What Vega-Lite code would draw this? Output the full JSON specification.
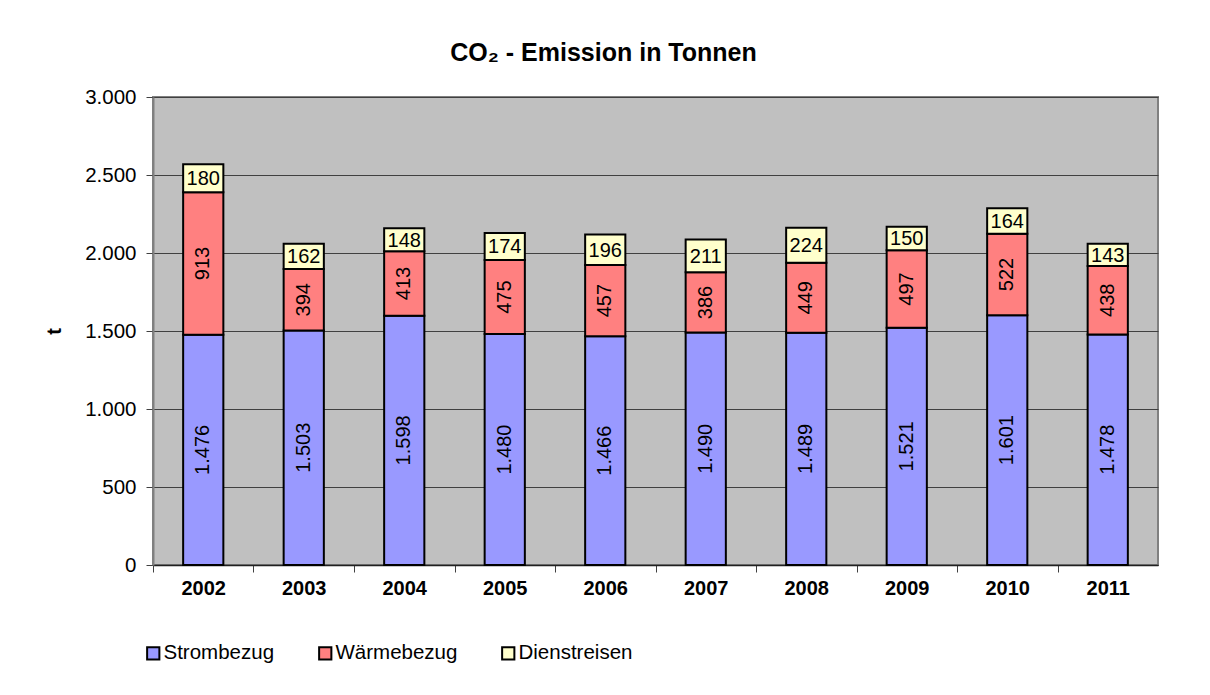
{
  "$schema": "https://vega.github.io/schema/vega-lite/v6.json",
  "width": 1005,
  "height": 468,
  "autosize": {"type": "none"},
  "padding": {"left": 153, "top": 97, "right": 52, "bottom": 130},
  "background": "white",
  "config": {
    "locale": {"number": {"decimal": ",", "thousands": ".", "grouping": [3], "currency": ["", " €"]}},
    "font": "Liberation Sans",
    "view": {"fill": "#c0c0c0", "stroke": "#808080", "strokeWidth": 2}
  },
  "title": {
    "text": "CO₂ - Emission in Tonnen",
    "font": "Liberation Sans",
    "fontSize": 25,
    "fontWeight": "bold",
    "color": "black",
    "anchor": "middle",
    "dx": -52,
    "offset": 21
  },
  "data": {
    "values": [
      {"year": "2002", "cat": "Strombezug", "order": 1, "value": 1476},
      {"year": "2002", "cat": "Wärmebezug", "order": 2, "value": 913},
      {"year": "2002", "cat": "Dienstreisen", "order": 3, "value": 180},
      {"year": "2003", "cat": "Strombezug", "order": 1, "value": 1503},
      {"year": "2003", "cat": "Wärmebezug", "order": 2, "value": 394},
      {"year": "2003", "cat": "Dienstreisen", "order": 3, "value": 162},
      {"year": "2004", "cat": "Strombezug", "order": 1, "value": 1598},
      {"year": "2004", "cat": "Wärmebezug", "order": 2, "value": 413},
      {"year": "2004", "cat": "Dienstreisen", "order": 3, "value": 148},
      {"year": "2005", "cat": "Strombezug", "order": 1, "value": 1480},
      {"year": "2005", "cat": "Wärmebezug", "order": 2, "value": 475},
      {"year": "2005", "cat": "Dienstreisen", "order": 3, "value": 174},
      {"year": "2006", "cat": "Strombezug", "order": 1, "value": 1466},
      {"year": "2006", "cat": "Wärmebezug", "order": 2, "value": 457},
      {"year": "2006", "cat": "Dienstreisen", "order": 3, "value": 196},
      {"year": "2007", "cat": "Strombezug", "order": 1, "value": 1490},
      {"year": "2007", "cat": "Wärmebezug", "order": 2, "value": 386},
      {"year": "2007", "cat": "Dienstreisen", "order": 3, "value": 211},
      {"year": "2008", "cat": "Strombezug", "order": 1, "value": 1489},
      {"year": "2008", "cat": "Wärmebezug", "order": 2, "value": 449},
      {"year": "2008", "cat": "Dienstreisen", "order": 3, "value": 224},
      {"year": "2009", "cat": "Strombezug", "order": 1, "value": 1521},
      {"year": "2009", "cat": "Wärmebezug", "order": 2, "value": 497},
      {"year": "2009", "cat": "Dienstreisen", "order": 3, "value": 150},
      {"year": "2010", "cat": "Strombezug", "order": 1, "value": 1601},
      {"year": "2010", "cat": "Wärmebezug", "order": 2, "value": 522},
      {"year": "2010", "cat": "Dienstreisen", "order": 3, "value": 164},
      {"year": "2011", "cat": "Strombezug", "order": 1, "value": 1478},
      {"year": "2011", "cat": "Wärmebezug", "order": 2, "value": 438},
      {"year": "2011", "cat": "Dienstreisen", "order": 3, "value": 143}
    ]
  },
  "transform": [
    {"stack": "value", "groupby": ["year"], "sort": [{"field": "order", "order": "ascending"}], "as": ["v0", "v1"]},
    {"calculate": "(datum.v0 + datum.v1) / 2", "as": "mid"}
  ],
  "encoding": {
    "x": {
      "field": "year",
      "type": "nominal",
      "scale": {"paddingInner": 0.6, "paddingOuter": 0.3},
      "axis": {
        "title": null,
        "labelAngle": 0,
        "labelFont": "Liberation Sans",
        "labelFontSize": 20,
        "labelFontWeight": "bold",
        "labelColor": "black",
        "labelPadding": 6,
        "labelOffset": 50.25,
        "tickOffset": -50.25,
        "tickSize": 7,
        "tickColor": "#404040",
        "domainColor": "#202020",
        "domainWidth": 1.5,
        "grid": false
      }
    }
  },
  "layer": [
    {
      "mark": {"type": "bar", "stroke": "black", "strokeWidth": 2},
      "encoding": {
        "y": {
          "field": "v0",
          "type": "quantitative",
          "scale": {"domain": [0, 3000]},
          "axis": {
            "title": "t",
            "titleFont": "Liberation Sans",
            "titleFontSize": 20,
            "titleFontWeight": "bold",
            "titleColor": "black",
            "titlePadding": 20,
            "values": [0, 500, 1000, 1500, 2000, 2500, 3000],
            "format": ",d",
            "labelFont": "Liberation Sans",
            "labelFontSize": 20.5,
            "labelColor": "black",
            "labelPadding": 10,
            "tickSize": 7,
            "tickColor": "#404040",
            "domainColor": "#808080",
            "domainWidth": 2,
            "grid": true,
            "gridColor": "#404040",
            "gridWidth": 1
          }
        },
        "y2": {"field": "v1"},
        "color": {
          "field": "cat",
          "type": "nominal",
          "scale": {"domain": ["Strombezug", "Wärmebezug", "Dienstreisen"], "range": ["#9999ff", "#ff8080", "#ffffcc"]},
          "legend": {
            "title": null,
            "orient": "none",
            "direction": "horizontal",
            "legendX": -10,
            "legendY": 546,
            "symbolType": "square",
            "symbolSize": 150,
            "symbolStrokeColor": "black",
            "symbolStrokeWidth": 2,
            "symbolOpacity": 1,
            "labelFont": "Liberation Sans",
            "labelFontSize": 20.5,
            "labelColor": "black",
            "labelOffset": 0,
            "columnPadding": 40
          }
        }
      }
    },
    {
      "transform": [{"filter": "datum.order < 3"}],
      "mark": {"type": "text", "angle": 270, "align": "center", "baseline": "middle", "font": "Liberation Sans", "fontSize": 20, "color": "black"},
      "encoding": {
        "y": {"field": "mid", "type": "quantitative"},
        "text": {"field": "value", "type": "quantitative", "format": ",d"}
      }
    },
    {
      "transform": [{"filter": "datum.order == 3"}],
      "mark": {"type": "text", "align": "center", "baseline": "middle", "font": "Liberation Sans", "fontSize": 20, "color": "black", "dy": 1},
      "encoding": {
        "y": {"field": "mid", "type": "quantitative"},
        "text": {"field": "value", "type": "quantitative", "format": ",d"}
      }
    }
  ]
}
